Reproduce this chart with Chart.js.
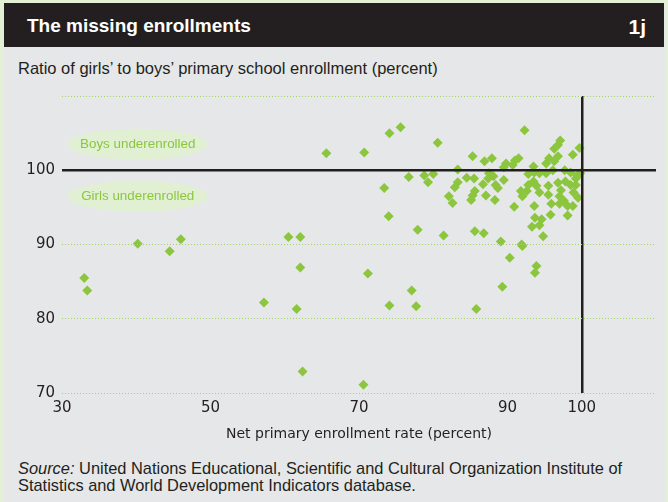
<!DOCTYPE html>
<html>
<head>
<meta charset="utf-8">
<script src="https://cdn.jsdelivr.net/npm/chart.js@4.4.1/dist/chart.umd.min.js"></script>
<style>
  html, body { margin: 0; padding: 0; }
  body { width: 668px; height: 502px; background: #e4f0d6; position: relative; overflow: hidden; }
  #panel { position: absolute; left: 4px; top: 3px; width: 661px; height: 499px; background: #e6e7e8; }
  #titlebar { position: absolute; left: 4px; top: 3px; width: 660px; height: 44px; background: #231f20; color: #fff;
    font: bold 19px "Liberation Sans Narrow", sans-serif; }
  #titlebar .t { position: absolute; left: 23px; top: 12px; }
  #titlebar .n { position: absolute; right: 18px; top: 12px; font-size: 21px; }
  #subtitle { position: absolute; left: 18px; top: 59px; font: 16.5px "Liberation Sans Narrow", sans-serif; color: #231f20; }
  #source { position: absolute; left: 18px; top: 460px; font: 16.4px/17px "Liberation Sans Narrow", sans-serif; color: #231f20; }
  #wrap { position: absolute; left: 0; top: 80px; width: 668px; height: 370px; }
</style>
</head>
<body>
<div id="panel"></div>
<div id="titlebar"><span class="t">The missing enrollments</span><span class="n">1j</span></div>
<div id="subtitle">Ratio of girls’ to boys’ primary school enrollment (percent)</div>
<div id="wrap"><canvas id="scatter" width="668" height="370"></canvas></div>
<div id="source"><i>Source:</i> United Nations Educational, Scientific and Cultural Organization Institute of<br>Statistics and World Development Indicators database.</div>
<script>
  // =========================
  // Données
  // =========================

  // taux net de scolarisation primaire (%)
  const enrollRate = [
    33.0, 33.4, 40.2, 44.5, 46.0, 57.2, 60.5, 61.6, 62.1, 62.1,
    62.4, 65.6, 70.6, 70.7, 71.2, 73.4, 74.0, 74.1, 74.1, 75.6,
    76.7, 77.1, 77.7, 77.9, 78.8, 79.3, 80.0, 80.6, 81.4, 82.1,
    82.6, 82.9, 83.3, 83.3, 84.5, 85.1, 85.3, 85.3, 85.6, 85.5,
    85.6, 85.8, 86.7, 86.8, 86.9, 87.1, 87.5, 87.4, 87.9, 88.1,
    88.3, 88.4, 88.7, 89.1, 89.3, 89.5, 89.5, 89.8, 90.3, 90.7,
    90.9, 91.0, 91.5, 91.8, 91.9, 92.0, 92.0, 92.3, 92.6, 92.8,
    92.8, 93.3, 93.5, 93.5, 93.6, 93.6, 93.7, 93.7, 93.9, 93.9,
    94.3, 94.3, 94.3, 94.6, 94.8, 95.2, 95.2, 95.5, 95.5, 95.6,
    95.8, 95.9, 96.1, 96.3, 96.3, 96.8, 96.8, 96.8, 97.0, 97.0,
    97.1, 97.2, 97.6, 97.7, 97.8, 98.1, 98.1, 98.5, 98.5, 98.8,
    98.8, 98.9, 99.2, 99.2, 99.4, 99.5, 99.7, 99.8
  ];

  // ratio filles / garçons (%)
  const girlsBoysRatio = [
    85.5, 83.8, 90.1, 89.1, 90.7, 82.2, 91.0, 81.3, 91.0, 86.9,
    72.9, 102.3, 71.1, 102.4, 86.1, 97.6, 93.8, 105.0, 81.8, 105.8,
    99.1, 83.8, 81.7, 92.0, 99.3, 98.4, 99.5, 103.7, 91.2, 96.5,
    95.6, 97.7, 100.1, 98.4, 99.0, 96.0, 101.9, 96.6, 97.2, 98.9,
    91.8, 81.3, 98.1, 91.5, 101.2, 96.6, 99.6, 98.9, 101.6, 99.2,
    96.0, 98.0, 97.6, 90.4, 84.3, 98.7, 100.4, 100.9, 88.2, 100.7,
    95.1, 101.3, 101.6, 97.2, 90.0, 89.8, 96.5, 105.4, 97.2, 99.5,
    98.0, 92.4, 98.5, 100.5, 95.2, 99.7, 93.6, 86.2, 87.1, 97.9,
    92.6, 99.6, 97.0, 93.4, 91.1, 99.6, 100.9, 97.9, 96.7, 101.6,
    94.0, 95.5, 100.0, 101.2, 102.9, 101.9, 103.4, 98.3, 96.5, 95.5,
    104.0, 97.3, 95.9, 100.0, 98.5, 93.9, 95.2, 99.7, 98.0, 102.1,
    95.2, 97.0, 98.9, 98.0, 99.3, 96.3, 103.0, 99.6
  ];

  const xTicks = [30, 50, 70, 90, 100];
  const yTicks = [70, 80, 90, 100, 110];
  const yTickLabels = ['70', '80', '90', '100', ''];

  const zones = [
    { label: 'Boys underenrolled', x: 40.2, y: 103.5 },
    { label: 'Girls underenrolled', x: 40.2, y: 96.5 }
  ];

  const points = enrollRate.map((x, i) => ({ x: x, y: girlsBoysRatio[i] }));

  const green = '#8cc63f';
  const ink = '#231f20';

  // =========================
  // Bulles "underenrolled"
  // =========================
  const zonePlugin = {
    id: 'zones',
    beforeDatasetsDraw(chart) {
      const { ctx, scales } = chart;
      ctx.save();
      zones.forEach(z => {
        const cx = scales.x.getPixelForValue(z.x);
        const cy = scales.y.getPixelForValue(z.y);
        ctx.beginPath();
        ctx.ellipse(cx, cy, 70, 15.5, 0, 0, Math.PI * 2);
        ctx.fillStyle = '#e1efd2';
        ctx.fill();
        ctx.fillStyle = '#8cc63f';
        ctx.font = '13.4px "Liberation Sans", sans-serif';
        ctx.textAlign = 'center';
        ctx.textBaseline = 'middle';
        ctx.fillText(z.label, cx, cy);
      });
      ctx.restore();
    }
  };

  new Chart(document.getElementById('scatter'), {
    type: 'scatter',
    data: {
      datasets: [{
        data: points,
        pointStyle: 'rectRot',
        pointRadius: 5,
        pointHoverRadius: 5,
        backgroundColor: green,
        borderWidth: 0
      }]
    },
    options: {
      responsive: false,
      animation: false,
      devicePixelRatio: 1,
      layout: { padding: { left: 0, right: 12, top: 12, bottom: 0 } },
      plugins: {
        legend: { display: false },
        tooltip: { enabled: false }
      },
      scales: {
        x: {
          type: 'linear',
          min: 30,
          max: 110,
          afterBuildTicks: s => { s.ticks = xTicks.map(v => ({ value: v })); },
          afterFit: s => { s.height = 57; },
          grid: {
            z: 1,
            drawTicks: false,
            color: c => (c.tick && c.tick.value === 100) ? ink : 'rgba(0,0,0,0)',
            lineWidth: 2.5
          },
          border: { display: false },
          ticks: {
            padding: 6,
            color: ink,
            font: { family: 'DejaVu Sans', size: 15 },
            callback: v => String(v)
          },
          title: {
            display: true,
            text: 'Net primary enrollment rate (percent)',
            color: ink,
            font: { family: 'DejaVu Sans', size: 14 },
            padding: { top: 0, bottom: 7 }
          }
        },
        y: {
          type: 'linear',
          min: 70,
          max: 110,
          afterBuildTicks: s => { s.ticks = yTicks.map(v => ({ value: v })); },
          afterFit: s => { s.width = 62; },
          grid: {
            z: 1,
            drawTicks: false,
            color: c => (c.tick && c.tick.value === 100) ? ink : '#a6d16b',
            lineWidth: c => (c.tick && c.tick.value === 100) ? 2.5 : 1
          },
          border: {
            display: false,
            dash: c => (c.tick && c.tick.value === 100) ? [] : [1, 2]
          },
          ticks: {
            padding: 7,
            color: ink,
            font: { family: 'DejaVu Sans', size: 15 },
            callback: (v, i) => yTickLabels[yTicks.indexOf(v)]
          }
        }
      }
    },
    plugins: [zonePlugin]
  });
</script>
</body>
</html>
